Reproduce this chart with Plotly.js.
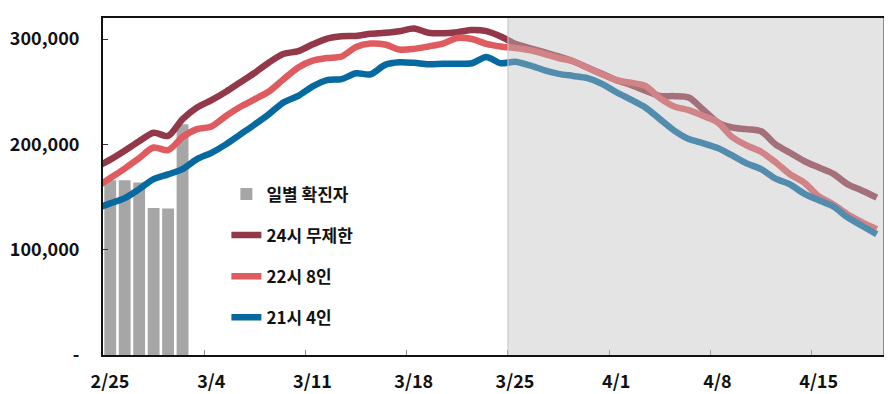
<!DOCTYPE html>
<html>
<head>
<meta charset="utf-8">
<script src="https://cdn.plot.ly/plotly-3.0.1.min.js"></script>
<style>
html,body{margin:0;padding:0;background:#fff;}
#chart{width:889px;height:394px;}
</style>
</head>
<body>
<div id="chart"></div>
<script>
// Tick labels (weekly, starting 2/25)
const tickLabels = ['2/25','3/4','3/11','3/18','3/25','4/1','4/8','4/15'];
const yTickVals = [0, 100000, 200000, 300000];
const yTickText = ['-', '100,000', '200,000', '300,000'];

// Daily confirmed cases (2/25 .. 3/2)
const dailyCases = [166000, 166000, 163700, 139600, 139000, 219000];

// Projections, one value per day from 2/24 to 4/19
const noLimit24 = [
  178000, 185500, 194000, 203000, 211000, 208000, 224000, 235000, 242000, 250000,
  259000, 268000, 278000, 286000, 288500, 295000, 300500, 302700, 303000, 305000,
  306000, 307500, 310000, 306000, 305500, 306500, 308500, 307500, 302500, 295500,
  291500, 287500, 283500, 279000, 273000, 267000, 261000, 256500, 251000, 246000,
  245800, 244500, 233000, 221000, 216000, 214500, 212500, 200000, 192000, 184000,
  178000, 172000, 162000, 156000, 149500
];
const h22p8 = [
  159000, 168000, 177000, 187000, 197000, 194500, 207000, 214500, 217000, 227000,
  235700, 243000, 250500, 262000, 273000, 279500, 282000, 283500, 292500, 295700,
  294800, 290000, 290700, 293000, 295700, 301000, 300000, 295500, 293000, 291500,
  289500, 286000, 282000, 279000, 272700, 266500, 261000, 258500, 255500, 244000,
  236000, 232500, 227000, 221000, 207000, 199000, 193000, 183000, 171600, 163500,
  150500, 143000, 133500, 126000, 119400
];
const h21p4 = [
  139000, 144000, 149000, 157500, 167000, 171500, 176500, 186000, 192000, 200000,
  209500, 219000, 229000, 240000, 246000, 255000, 261000, 262000, 267500, 266500,
  275500, 278000, 277400, 276000, 276500, 276500, 277000, 283000, 277000, 278500,
  275000, 270500, 267000, 265000, 263000, 257500, 249500, 242500, 235000, 224000,
  213000, 205000, 201000, 196500, 189500, 182000, 176500, 167500, 162000, 153000,
  147000, 141000, 130500, 122500, 114700
];

const seriesNames = ['일별 확진자', '24시 무제한', '22시 8인', '21시 4인'];
const seriesColors = ['#a6a6a6', '#923849', '#df5b5f', '#066aa1'];

const barX = dailyCases.map((_, i) => i + 0.5);
const lineX = noLimit24.map((_, i) => i - 0.5);
const tickVals = tickLabels.map((_, i) => i * 7);

const fontFam = '"Noto Sans CJK KR", "Noto Sans", sans-serif';

const lineTrace = (y, k) => ({
  type: 'scatter', mode: 'lines', x: lineX, y: y,
  name: seriesNames[k], legendgroup: 'g' + k,
  line: {color: seriesColors[k], width: 6.5, shape: 'spline', smoothing: 0.8},
  hoverinfo: 'skip'
});

const data = [
  {type: 'bar', x: barX, y: dailyCases, width: 0.82, name: seriesNames[0], legendgroup: 'g0',
   marker: {color: seriesColors[0]}, hoverinfo: 'skip'},
  lineTrace(noLimit24, 1),
  lineTrace(h22p8, 2),
  lineTrace(h21p4, 3)
];

const layout = {
  width: 889, height: 394,
  margin: {l: 103, r: 5, t: 18, b: 39},
  paper_bgcolor: '#ffffff', plot_bgcolor: '#ffffff',
  font: {family: fontFam, size: 18, color: '#111', weight: 'bold'},
  showlegend: true,
  legend: {
    x: 0.158, y: 0.53, xanchor: 'left', yanchor: 'top',
    traceorder: 'grouped', tracegroupgap: 16, itemwidth: 30,
    bgcolor: 'rgba(0,0,0,0)',
    font: {family: fontFam, size: 17, color: '#111', weight: 'bold'}
  },
  xaxis: {
    range: [0, 54], tickvals: tickVals, ticktext: tickLabels,
    ticks: 'inside', ticklen: 5, tickcolor: '#888', tickwidth: 1,
    ticklabelshift: 7, ticklabelstandoff: 9,
    showline: true, linecolor: '#111', linewidth: 2, mirror: true,
    showgrid: false, zeroline: false, fixedrange: true,
    tickfont: {family: fontFam, size: 18, color: '#111', weight: 'bold'}
  },
  yaxis: {
    range: [0, 320000], tickvals: yTickVals, ticktext: yTickText,
    ticks: 'inside', ticklen: 5, tickcolor: '#333', tickwidth: 1,
    ticklabelstandoff: 18,
    showline: true, linecolor: '#111', linewidth: 2,
    showgrid: false, zeroline: false, fixedrange: true,
    tickfont: {family: fontFam, size: 18, color: '#111', weight: 'bold'}
  },
  shapes: [
    {type: 'rect', xref: 'x', yref: 'y', x0: 28, x1: 54, y0: 0, y1: 320000,
     fillcolor: 'rgba(191,191,191,0.42)', line: {width: 0}, layer: 'above'},
    {type: 'line', xref: 'x', yref: 'y', x0: 28, x1: 28, y0: 0, y1: 320000,
     line: {color: '#c4c4c4', width: 1}, layer: 'above'},
    {type: 'line', xref: 'x', yref: 'y', x0: 54, x1: 54, y0: 0, y1: 320000,
     line: {color: '#8c8c8c', width: 2}, layer: 'above'}
  ]
};

Plotly.newPlot('chart', data, layout, {displayModeBar: false, staticPlot: true});
</script>
</body>
</html>
